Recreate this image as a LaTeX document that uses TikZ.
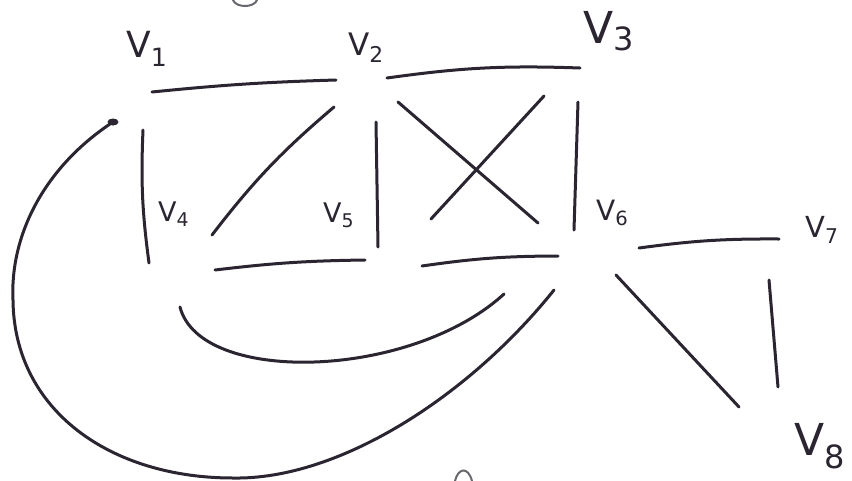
\documentclass[tikz,border=0pt]{standalone}
\usepackage{fontspec}
\setsansfont{DejaVu Sans}
\definecolor{ink}{HTML}{2A2530}
\newcommand{\fsz}[1]{\fontsize{#1}{#1}\selectfont}
\tikzset{
  edge/.style={draw=ink, line width=3pt, line cap=round},
  frag/.style={draw=ink!70, line width=2pt, line cap=round},
  vlabel/.style={text=ink, inner sep=0pt, anchor=base west, font=\sffamily\fsz{#1}},
}
\begin{document}
\begin{tikzpicture}[x=1pt,y=-1pt]
\useasboundingbox (0,0) rectangle (852,480);
\fill[white] (0,0) rectangle (852,480);

% vertex labels
\node[vlabel=36] (v1) at (126,57) {V\textsubscript{1}};
\node[vlabel=31] (v2) at (348,55) {V\textsubscript{2}};
\node[vlabel=44] (v3) at (583,43) {V\raisebox{-7pt}{\fsz{32}3}};
\node[vlabel=27] (v4) at (158,221) {V\textsubscript{4}};
\node[vlabel=27] (v5) at (323,222) {V\textsubscript{5}};
\node[vlabel=28] (v6) at (596,220) {V\textsubscript{6}};
\node[vlabel=29] (v7) at (805,237) {V\textsubscript{7}};
\node[vlabel=44] (v8) at (794,455) {V\raisebox{-13pt}{\fsz{32}8}};

% edge end points
\coordinate (a12) at (152,92);  \coordinate (b12) at (336,80);
\coordinate (a23) at (387,78);  \coordinate (b23) at (580,68);
\coordinate (a14) at (143,130); \coordinate (b14) at (149,263);
\coordinate (a24) at (334,107); \coordinate (b24) at (212,235);
\coordinate (a25) at (376,122); \coordinate (b25) at (378,247);
\coordinate (a26) at (398,102); \coordinate (b26) at (538,223);
\coordinate (a35) at (544,96);  \coordinate (b35) at (431,219);
\coordinate (a36) at (578,102); \coordinate (b36) at (574,230);
\coordinate (a45) at (215,270); \coordinate (b45) at (365,260);
\coordinate (a56) at (422,266); \coordinate (b56) at (558,256);
\coordinate (a67) at (639,248); \coordinate (b67) at (779,239);
\coordinate (a68) at (616,275); \coordinate (b68) at (739,407);
\coordinate (a78) at (769,280); \coordinate (b78) at (778,387);
\coordinate (a46) at (180,307); \coordinate (b46) at (504,294);
\coordinate (a16) at (113,122); \coordinate (b16) at (554,290);
\coordinate (l16) at (13,300);  \coordinate (m16) at (233,478);

% straight edges
\draw[edge] (a12) to[bend left=2] (b12);
\draw[edge] (a23) to[bend left=5] (b23);
\draw[edge] (a14) to[bend right=5] (b14);
\draw[edge] (a24) to[bend right=6] (b24);
\draw[edge] (a25) -- (b25);
\draw[edge] (a26) -- (b26);
\draw[edge] (a35) -- (b35);
\draw[edge] (a36) -- (b36);
\draw[edge] (a45) to[bend left=3] (b45);
\draw[edge] (a56) to[bend left=4] (b56);
\draw[edge] (a67) to[bend left=4] (b67);
\draw[edge] (a68) -- (b68);
\draw[edge] (a78) -- (b78);

% curved edges
\draw[edge] (a46) .. controls (200,385) and (410,380) .. (b46);
\fill[ink] (a16) ellipse (5.5pt and 3.5pt);
\draw[edge] (a16) .. controls (40,170) and (10,240) .. (l16)
            .. controls (14,410) and (110,478) .. (m16)
            .. controls (340,480) and (470,395) .. (b16);

% cut-off fragments at the top and bottom edges
\coordinate (f1a) at (233,0); \coordinate (f1b) at (257,0);
\draw[frag] (f1a) .. controls (236,8) and (254,8) .. (f1b);
\coordinate (f2a) at (455,481); \coordinate (f2b) at (472,481);
\draw[frag] (f2a) .. controls (458,468) and (468,466) .. (f2b);
\end{tikzpicture}
\end{document}
